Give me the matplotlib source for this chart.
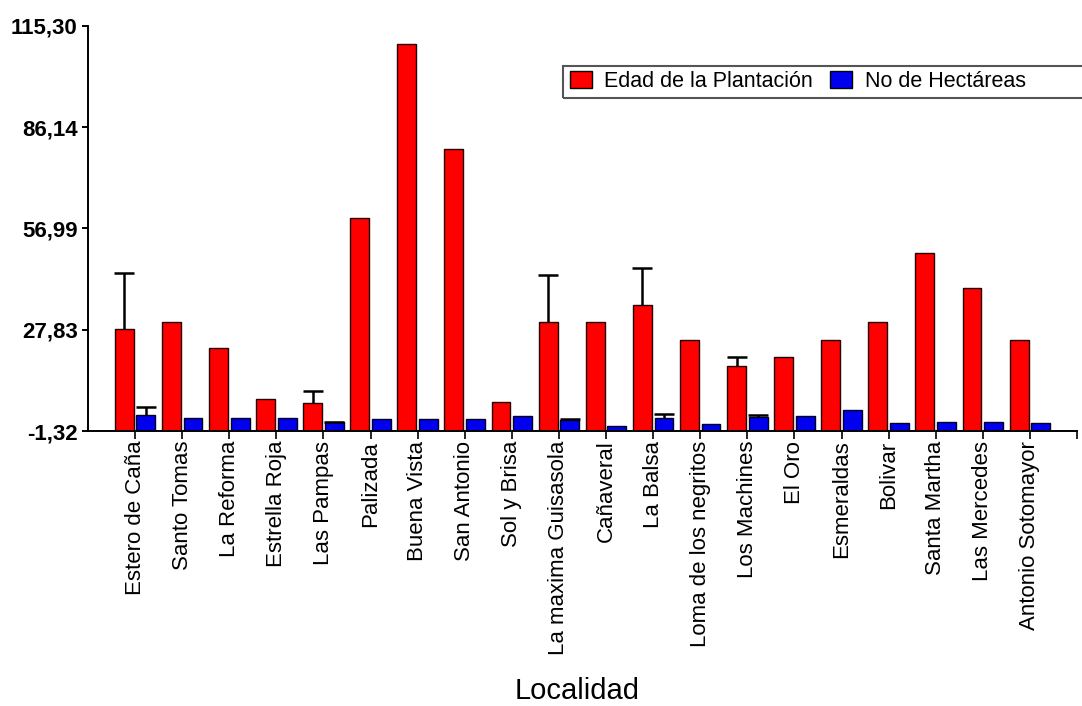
import matplotlib
matplotlib.use('Agg')
import matplotlib.pyplot as plt
from matplotlib.patches import Rectangle
import numpy as np

plt.rcParams['font.family'] = ['Liberation Sans', 'DejaVu Sans']

localidades = ['Estero de Caña', 'Santo Tomas', 'La Reforma', 'Estrella Roja',
               'Las Pampas', 'Palizada', 'Buena Vista', 'San Antonio',
               'Sol y Brisa', 'La maxima Guisasola', 'Cañaveral', 'La Balsa',
               'Loma de los negritos', 'Los Machines', 'El Oro', 'Esmeraldas',
               'Bolivar', 'Santa Martha', 'Las Mercedes', 'Antonio Sotomayor']

# edad de la plantacion
edad = [28.0, 30.0, 22.5, 8.0, 6.7, 60.0, 110.0, 80.0, 7.0, 30.0,
        30.0, 35.0, 25.0, 17.5, 20.0, 25.0, 30.0, 50.0, 40.0, 25.0]
edad_err = [16.3, 0, 0, 0, 3.4, 0, 0, 0, 0, 13.7,
            0, 10.6, 0, 2.5, 0, 0, 0, 0, 0, 0]

# no de hectareas
hect = [3.3, 2.4, 2.4, 2.4, 1.2, 2.1, 2.1, 2.1, 2.9, 1.9,
        0.2, 2.5, 0.6, 2.8, 2.9, 4.8, 1.0, 1.4, 1.4, 1.0]
hect_err = [2.2, 0, 0, 0, 0.2, 0, 0, 0, 0, 0.2,
            0, 1.1, 0, 0.5, 0, 0, 0, 0, 0, 0]

y_ticks = [-1.32, 27.83, 56.99, 86.14, 115.30]
y_labels = ['-1,32', '27,83', '56,99', '86,14', '115,30']

ymin, ymax = y_ticks[0], y_ticks[-1]

fig = plt.figure(figsize=(10.82, 7.06), dpi=100)
ax = fig.add_axes([0.0813, 0.3895, 0.9141, 0.5737])

x = np.arange(1, len(localidades) + 1)
w = 0.40
off = 0.23

edad = np.array(edad)
hect = np.array(hect)

ax.bar(x - off, edad - ymin, w, bottom=ymin, color='#ff0000',
       edgecolor='#200000', linewidth=1.0, label='Edad de la Plantación', zorder=2)
ax.bar(x + off, hect - ymin, w, bottom=ymin, color='#0000ee',
       edgecolor='#000020', linewidth=1.0, label='No de Hectáreas', zorder=2)


def up_err(xs, ys, errs):
    errs = np.array(errs)
    m = errs > 0
    eb = ax.errorbar(xs[m], ys[m], yerr=[np.zeros(m.sum()), errs[m]],
                     fmt='none', ecolor='black', elinewidth=1.8,
                     capsize=7, capthick=1.8, zorder=3)
    # only keep the upper cap
    eb[1][0].set_visible(False)


up_err(x - off, edad, edad_err)
up_err(x + off, hect, hect_err)

ax.set_xlim(0, 21)
ax.set_ylim(ymin, ymax)

ax.spines['top'].set_visible(False)
ax.spines['right'].set_visible(False)
ax.spines['left'].set_linewidth(1.4)
ax.spines['bottom'].set_linewidth(1.4)

ax.set_yticks(y_ticks)
ax.set_yticklabels(y_labels, fontsize=16, fontweight='bold')
ax.tick_params(axis='y', length=4.5, width=1.4, pad=3)

ax.set_xticks(x)
ax.set_xticklabels(localidades, rotation=90, fontsize=16)
ax.set_xticks([21], minor=True)
ax.tick_params(axis='x', which='both', length=5.5, width=1.2, pad=1.5)

ax.set_xlabel('Localidad', fontsize=21)
ax.xaxis.set_label_coords(0.4945, -0.662)
ax.xaxis.label.set_va('baseline')

leg = ax.legend(loc='center left', bbox_to_anchor=(0.5268, 0.885),
                bbox_transform=fig.transFigure, ncol=2, frameon=False,
                fontsize=15.5, handlelength=1.0, handleheight=0.9,
                handletextpad=0.6, columnspacing=0.8, borderpad=0,
                borderaxespad=0)
for p in leg.get_patches():
    p.set_edgecolor('black')

fig.patches.append(Rectangle((0.5203, 0.8616), 0.49, 0.0453,
                             transform=fig.transFigure, fill=False,
                             edgecolor='#555555', linewidth=1.5))

fig.savefig('out.png', dpi=100)
